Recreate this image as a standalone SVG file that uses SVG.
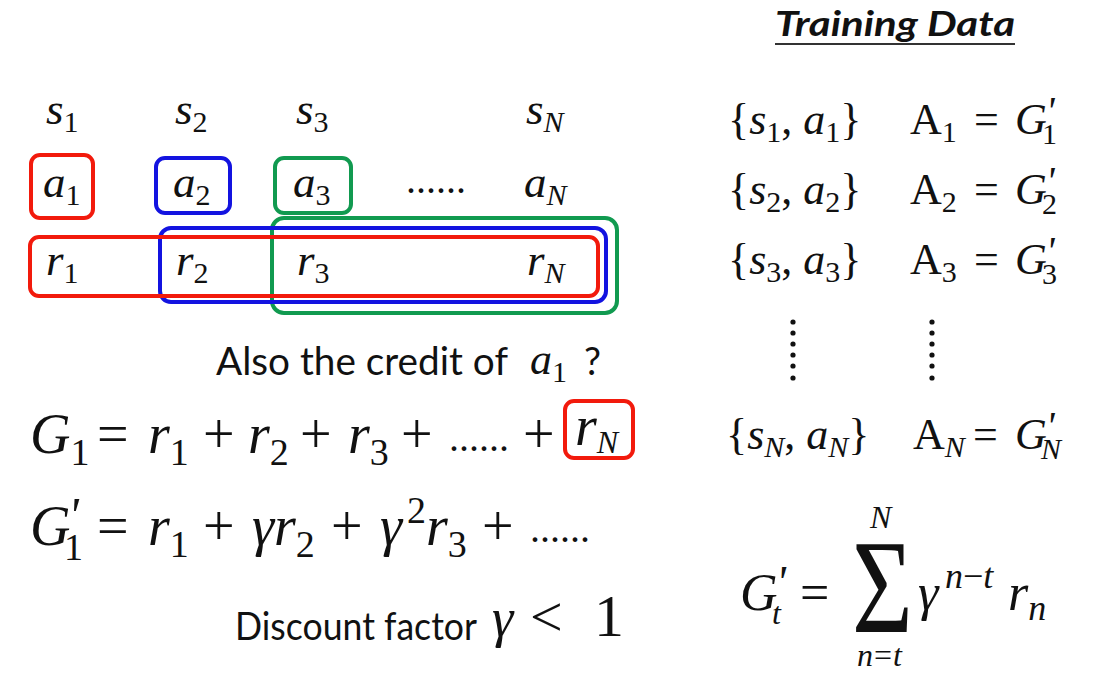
<svg xmlns="http://www.w3.org/2000/svg" width="1099" height="673" viewBox="0 0 1099 673">
<style>
.m{font-family:"Liberation Serif","DejaVu Serif",serif;font-style:italic;fill:#111}
.u{font-family:"Liberation Serif","DejaVu Serif",serif;font-style:normal;fill:#111}
.s{font-family:Lato,"Open Sans","Liberation Sans",sans-serif;fill:#111}
.p{font-family:"Liberation Serif","DejaVu Serif",serif;font-style:italic;fill:#111}
.box{fill:none;stroke-width:4}
.red{stroke:#f21a0c}.blue{stroke:#1313e0}.green{stroke:#119a50}
.dot{fill:#111}
</style>
<rect width="1099" height="673" fill="#fff"/>
<g id="connectors"></g>
<g id="states" font-size="45">
<text class="m" x="46" y="124">s<tspan class="u" font-size="30" dy="8">1</tspan></text>
<text class="m" x="175" y="124">s<tspan class="u" font-size="30" dy="8">2</tspan></text>
<text class="m" x="296" y="124">s<tspan class="u" font-size="30" dy="8">3</tspan></text>
<text class="m" x="526" y="124">s<tspan font-size="30" dy="8">N</tspan></text>
</g>
<g id="actions" font-size="45">
<text class="m" x="43" y="197">a<tspan class="u" font-size="30" dy="8">1</tspan></text>
<text class="m" x="173" y="197">a<tspan class="u" font-size="30" dy="8">2</tspan></text>
<text class="m" x="293" y="197">a<tspan class="u" font-size="30" dy="8">3</tspan></text>
<text class="u" x="406" y="193" font-size="40">......</text>
<text class="m" x="524" y="197">a<tspan font-size="30" dy="8">N</tspan></text>
</g>
<g id="rewards" font-size="45">
<text class="m" x="46" y="275">r<tspan class="u" font-size="30" dy="8">1</tspan></text>
<text class="m" x="176" y="275">r<tspan class="u" font-size="30" dy="8">2</tspan></text>
<text class="m" x="297" y="275">r<tspan class="u" font-size="30" dy="8">3</tspan></text>
<text class="m" x="527" y="275">r<tspan font-size="30" dy="8">N</tspan></text>
</g>
<g id="boxes">
<rect class="box red" x="31" y="155" width="62" height="63" rx="9"/>
<rect class="box blue" x="156" y="158" width="74" height="55" rx="9"/>
<rect class="box green" x="275" y="158" width="76" height="55" rx="9"/>
<rect class="box green" x="272" y="218" width="345" height="95" rx="12"/>
<rect class="box blue" x="160" y="228" width="446" height="74" rx="11"/>
<rect class="box red" x="30" y="237" width="568" height="59" rx="9"/>
</g>
<g id="credit">
<text class="s" x="216" y="375" font-size="38" textLength="292" lengthAdjust="spacingAndGlyphs">Also the credit of</text>
<text class="m" x="530" y="374" font-size="44">a<tspan class="u" font-size="30" dy="8">1</tspan></text>
<text class="s" x="584" y="375" font-size="38">?</text>
</g>
<g id="eq-g1" font-size="56">
<text class="m" x="30" y="453">G<tspan class="u" font-size="38" dy="12">1</tspan></text>
<text class="u" x="97" y="453">=</text>
<text class="m" x="148" y="453">r<tspan class="u" font-size="38" dy="12">1</tspan></text>
<text class="u" x="203" y="453">+</text>
<text class="m" x="248" y="453">r<tspan class="u" font-size="38" dy="12">2</tspan></text>
<text class="u" x="300" y="453">+</text>
<text class="m" x="348" y="453">r<tspan class="u" font-size="38" dy="12">3</tspan></text>
<text class="u" x="401" y="453">+</text>
<text class="u" x="449" y="451" font-size="40">......</text>
<text class="u" x="523" y="453">+</text>
<text class="m" x="575" y="445">r<tspan font-size="32" dy="8">N</tspan></text>
<rect class="box red" x="565" y="401" width="68" height="57" rx="9"/>
</g>
<g id="eq-g1p" font-size="56">
<text class="m" x="30" y="545">G</text>
<text class="p" x="68" y="532" font-size="50">'</text>
<text class="u" x="64" y="560" font-size="38">1</text>
<text class="u" x="97" y="545">=</text>
<text class="m" x="148" y="545">r<tspan class="u" font-size="38" dy="12">1</tspan></text>
<text class="u" x="203" y="545">+</text>
<text class="m" x="252" y="545">γr<tspan class="u" font-size="38" dy="12">2</tspan></text>
<text class="u" x="331" y="545">+</text>
<text class="m" x="380" y="545">γ</text>
<text class="u" x="407" y="523" font-size="38">2</text>
<text class="m" x="426" y="545">r<tspan class="u" font-size="38" dy="12">3</tspan></text>
<text class="u" x="482" y="545">+</text>
<text class="u" x="530" y="542" font-size="40">......</text>
</g>
<g id="discount">
<text class="s" x="235" y="640" font-size="38" textLength="242" lengthAdjust="spacingAndGlyphs">Discount factor</text>
<text class="m" x="492" y="636" font-size="54">γ</text>
<text class="u" x="530" y="636" font-size="58">&lt;</text>
<text class="u" x="594" y="636" font-size="60">1</text>
</g>
<g id="title">
<text class="s" x="775" y="36" font-size="34" font-weight="bold" font-style="italic" textLength="240" lengthAdjust="spacingAndGlyphs">Training Data</text>
<line x1="775" y1="44" x2="1015" y2="44" stroke="#333" stroke-width="2"/>
</g>
<g id="row1" font-size="44">
<text class="u" x="728" y="134">{<tspan class="m">s</tspan><tspan font-size="30" dy="8">1</tspan><tspan dy="-8">, </tspan><tspan class="m">a</tspan><tspan font-size="30" dy="8">1</tspan><tspan dy="-8">}</tspan></text>
<text class="u" x="910" y="134">A<tspan font-size="30" dy="8">1</tspan></text>
<text class="u" x="974" y="134">=</text>
<text class="m" x="1015" y="134">G</text>
<text class="p" x="1046" y="124" font-size="40">'</text>
<text class="u" x="1042" y="144" font-size="30">1</text>
</g>
<g id="row2" font-size="44">
<text class="u" x="728" y="204">{<tspan class="m">s</tspan><tspan font-size="30" dy="8">2</tspan><tspan dy="-8">, </tspan><tspan class="m">a</tspan><tspan font-size="30" dy="8">2</tspan><tspan dy="-8">}</tspan></text>
<text class="u" x="910" y="204">A<tspan font-size="30" dy="8">2</tspan></text>
<text class="u" x="974" y="204">=</text>
<text class="m" x="1015" y="204">G</text>
<text class="p" x="1046" y="194" font-size="40">'</text>
<text class="u" x="1042" y="214" font-size="30">2</text>
</g>
<g id="row3" font-size="44">
<text class="u" x="728" y="274">{<tspan class="m">s</tspan><tspan font-size="30" dy="8">3</tspan><tspan dy="-8">, </tspan><tspan class="m">a</tspan><tspan font-size="30" dy="8">3</tspan><tspan dy="-8">}</tspan></text>
<text class="u" x="910" y="274">A<tspan font-size="30" dy="8">3</tspan></text>
<text class="u" x="974" y="274">=</text>
<text class="m" x="1015" y="274">G</text>
<text class="p" x="1046" y="264" font-size="40">'</text>
<text class="u" x="1042" y="284" font-size="30">3</text>
</g>
<g id="vdots">
<circle class="dot" cx="793" cy="322" r="2.6"/><circle class="dot" cx="793" cy="333" r="2.6"/><circle class="dot" cx="793" cy="344" r="2.6"/><circle class="dot" cx="793" cy="355" r="2.6"/><circle class="dot" cx="793" cy="366" r="2.6"/><circle class="dot" cx="793" cy="378" r="2.6"/>
<circle class="dot" cx="932" cy="322" r="2.6"/><circle class="dot" cx="932" cy="333" r="2.6"/><circle class="dot" cx="932" cy="344" r="2.6"/><circle class="dot" cx="932" cy="355" r="2.6"/><circle class="dot" cx="932" cy="366" r="2.6"/><circle class="dot" cx="932" cy="378" r="2.6"/>
</g>
<g id="rowN" font-size="44">
<text class="u" x="726" y="449">{<tspan class="m">s</tspan><tspan class="m" font-size="30" dy="8">N</tspan><tspan dy="-8">, </tspan><tspan class="m">a</tspan><tspan class="m" font-size="30" dy="8">N</tspan><tspan dy="-8">}</tspan></text>
<text class="u" x="913" y="449">A<tspan class="m" font-size="30" dy="8">N</tspan></text>
<text class="u" x="973" y="449">=</text>
<text class="m" x="1015" y="449">G</text>
<text class="p" x="1046" y="439" font-size="40">'</text>
<text class="m" x="1041" y="459" font-size="30">N</text>
</g>
<g id="sum">
<text class="m" x="740" y="610" font-size="52">G</text>
<text class="p" x="776" y="598" font-size="46">'</text>
<text class="m" x="772" y="624" font-size="32">t</text>
<text class="u" x="800" y="610" font-size="52">=</text>
<text class="u" x="852" y="632" font-size="134" transform="translate(852 632) scale(0.78 1) translate(-852 -632)">Σ</text>
<text class="m" x="870" y="528" font-size="32">N</text>
<text class="m" x="857" y="666" font-size="32">n</text>
<text class="u" x="874" y="666" font-size="32">=</text>
<text class="m" x="893" y="666" font-size="32">t</text>
<text class="m" x="918" y="610" font-size="52">γ</text>
<text class="m" x="945" y="588" font-size="36">n<tspan class="u">−</tspan>t</text>
<text class="m" x="1008" y="610" font-size="52">r<tspan font-size="36" dy="10">n</tspan></text>
</g>
</svg>
